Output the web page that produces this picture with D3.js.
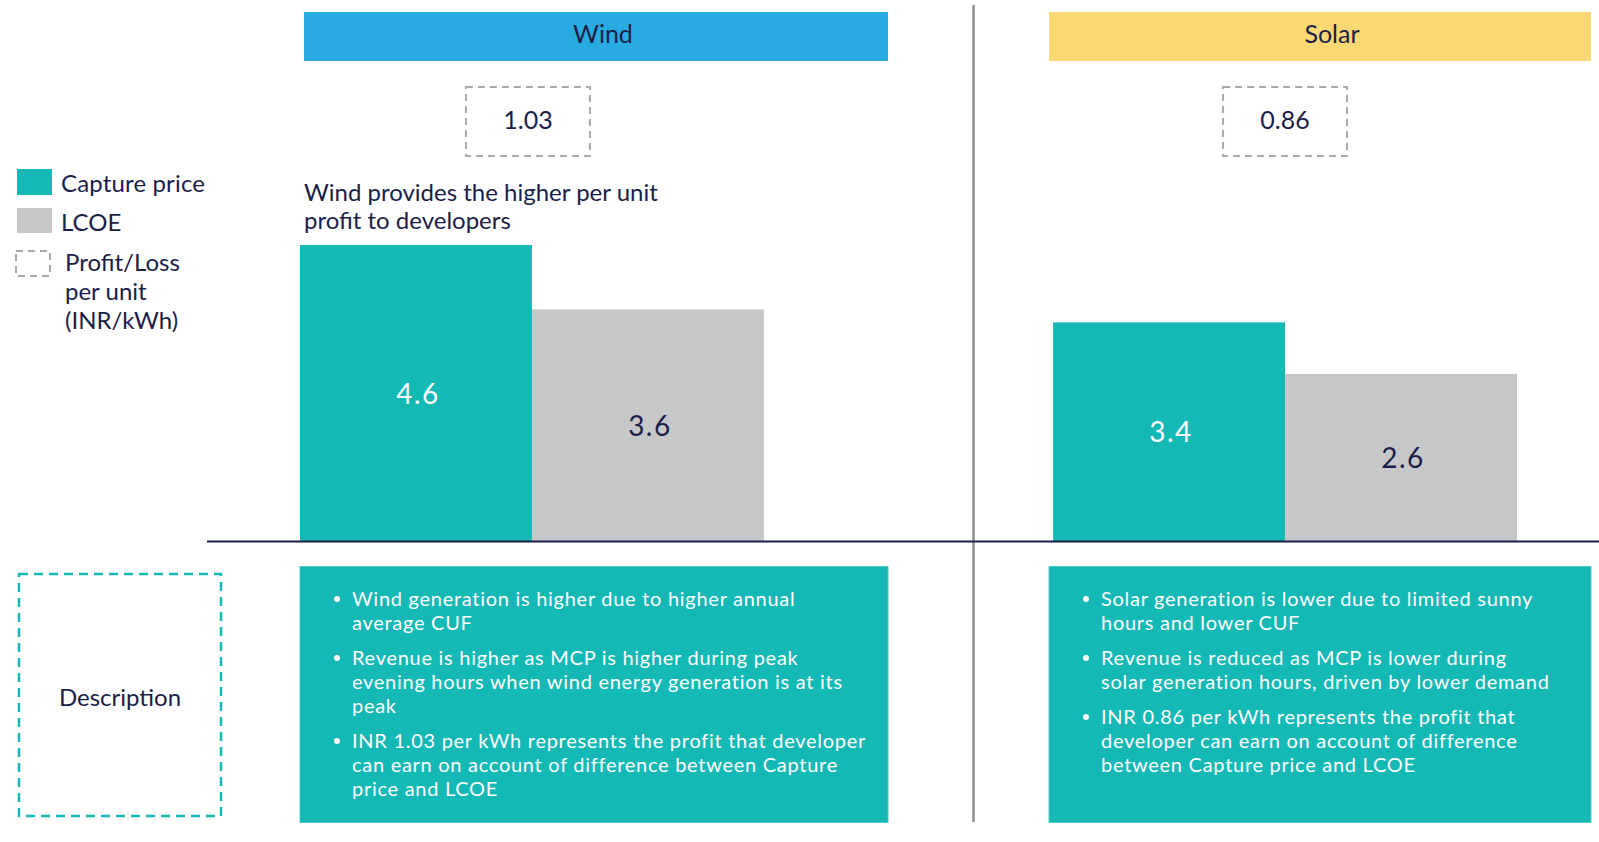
<!DOCTYPE html>
<html>
<head>
<meta charset="utf-8">
<script src="https://cdn.jsdelivr.net/npm/d3@7"></script>
<style>
  html, body { margin: 0; padding: 0; background: #ffffff; }
  svg { display: block; }
  text { font-family: Lato, "Open Sans", sans-serif; }
</style>
</head>
<body>
<svg id="chart" width="1599" height="842"></svg>
<script>
// ---------------- DATA ----------------
const categories = ["Wind", "Solar"];
const series = ["Capture price", "LCOE"];
const capturePrice = [4.6, 3.4];
const lcoe = [3.6, 2.6];
const profitPerUnit = [1.03, 0.86];
const legendLabels = ["Capture price", "LCOE", "Profit/Loss per unit (INR/kWh)"];
const annotationLines = ["Wind provides the higher per unit", "profit to developers"];
const descriptionTitle = "Description";
const windBullets = [
  ["Wind generation is higher due to higher annual", "average CUF"],
  ["Revenue is higher as MCP is higher during peak", "evening hours when wind energy generation is at its", "peak"],
  ["INR 1.03 per kWh represents the profit that developer", "can earn on account of difference between Capture", "price and LCOE"]
];
const solarBullets = [
  ["Solar generation is lower due to limited sunny", "hours and lower CUF"],
  ["Revenue is reduced as MCP is lower during", "solar generation hours, driven by lower demand"],
  ["INR 0.86 per kWh represents the profit that", "developer can earn on account of difference", "between Capture price and LCOE"]
];
const bulletsByCategory = [windBullets, solarBullets];

// ---------------- STYLE / LAYOUT ----------------
const TEAL = "#14b9b5";
const GREY = "#c6c7c9";
const NAVY = "#1b1e48";
const headerColors = { Wind: "#29abe2", Solar: "#fad874" };
const panels = {
  Wind:  { x0: 304, x1: 888, bulletX: 337, textX: 352 },
  Solar: { x0: 1049, x1: 1591, bulletX: 1086, textX: 1101 }
};

const svg = d3.select("#chart");

// scales
const x0 = d3.scaleBand().domain(categories).range([300, 1517]).paddingInner(0.384).paddingOuter(0).align(0);
const x1 = d3.scaleBand().domain(series).range([0, x0.bandwidth()]).padding(0);
const y = d3.scaleLinear().domain([0, 4.6]).range([541.5, 245]);
const color = d3.scaleOrdinal().domain(series).range([TEAL, GREY]);

const rows = categories.map((c, i) => ({
  category: c,
  values: [
    { key: series[0], value: capturePrice[i] },
    { key: series[1], value: lcoe[i] }
  ],
  profit: profitPerUnit[i],
  bullets: bulletsByCategory[i]
}));

// headers
const headers = svg.append("g");
rows.forEach(r => {
  const p = panels[r.category];
  headers.append("rect")
    .attr("x", p.x0).attr("y", 12)
    .attr("width", p.x1 - p.x0).attr("height", 49)
    .attr("fill", headerColors[r.category]);
  headers.append("text")
    .attr("x", (p.x0 + p.x1) / 2 + (r.category === "Solar" ? 12 : 7)).attr("y", 43)
    .attr("text-anchor", "middle")
    .attr("font-size", 25).attr("fill", NAVY)
    .text(r.category);
});

// divider
svg.append("line")
  .attr("x1", 973.5).attr("x2", 973.5).attr("y1", 5).attr("y2", 822)
  .attr("stroke", "#8c8c8c").attr("stroke-width", 2.5);

// bars
const groups = svg.append("g").selectAll("g.group")
  .data(rows).join("g")
  .attr("class", "group")
  .attr("transform", d => `translate(${x0(d.category)},0)`);

groups.selectAll("rect.bar")
  .data(d => d.values).join("rect")
  .attr("class", "bar")
  .attr("x", d => x1(d.key))
  .attr("y", d => y(d.value))
  .attr("width", x1.bandwidth())
  .attr("height", d => y(0) - y(d.value))
  .attr("fill", d => color(d.key));

groups.selectAll("text.val")
  .data(d => d.values).join("text")
  .attr("class", "val")
  .attr("x", d => x1(d.key) + x1.bandwidth() / 2 + 2)
  .attr("y", d => (y(d.value) + y(0)) / 2 + 10.5)
  .attr("text-anchor", "middle")
  .attr("font-size", 28)
  .attr("letter-spacing", 1.5)
  .attr("fill", d => d.key === series[0] ? "#ffffff" : NAVY)
  .text(d => d3.format(".1f")(d.value));

// profit boxes
groups.each(function(d) {
  const g = d3.select(this);
  const cx = x1(series[1]) - (d.category === "Wind" ? 4 : 0);
  g.append("rect")
    .attr("x", cx - 62).attr("y", 87)
    .attr("width", 124).attr("height", 69)
    .attr("fill", "none")
    .attr("stroke", "#a9a9a9").attr("stroke-width", 2)
    .attr("stroke-dasharray", "7,5");
  g.append("text")
    .attr("x", cx).attr("y", 129)
    .attr("text-anchor", "middle")
    .attr("font-size", 25).attr("fill", NAVY)
    .text(d3.format(".2f")(d.profit));
});

// baseline
svg.append("line")
  .attr("x1", 207).attr("x2", 1599).attr("y1", 541.5).attr("y2", 541.5)
  .attr("stroke", NAVY).attr("stroke-width", 2);

// annotation
svg.append("text")
  .attr("x", 304).attr("font-size", 24).attr("fill", NAVY)
  .selectAll("tspan").data(annotationLines).join("tspan")
  .attr("x", 304).attr("y", (d, i) => 201 + i * 28)
  .text(d => d);

// legend
const legend = svg.append("g");
legend.append("rect").attr("x", 17).attr("y", 169).attr("width", 35).attr("height", 26).attr("fill", TEAL);
legend.append("rect").attr("x", 17).attr("y", 208).attr("width", 35).attr("height", 25).attr("fill", GREY);
legend.append("rect").attr("x", 16).attr("y", 251).attr("width", 34).attr("height", 25)
  .attr("fill", "none").attr("stroke", "#a9a9a9").attr("stroke-width", 2).attr("stroke-dasharray", "7,5");
legend.append("text").attr("x", 61).attr("y", 192).attr("font-size", 24).attr("letter-spacing", 0.15).attr("fill", NAVY).text(legendLabels[0]);
legend.append("text").attr("x", 61).attr("y", 231).attr("font-size", 24).attr("fill", NAVY).text(legendLabels[1]);
legend.append("text").attr("font-size", 24).attr("fill", NAVY)
  .selectAll("tspan").data(["Profit/Loss", "per unit", "(INR/kWh)"]).join("tspan")
  .attr("x", 65).attr("y", (d, i) => 271 + i * 29)
  .text(d => d);

// description label box
svg.append("rect")
  .attr("x", 19).attr("y", 574).attr("width", 202).attr("height", 242)
  .attr("fill", "none").attr("stroke", TEAL).attr("stroke-width", 2.5)
  .attr("stroke-dasharray", "9,6");
svg.append("text")
  .attr("x", 120).attr("y", 706).attr("text-anchor", "middle")
  .attr("font-size", 24).attr("fill", NAVY).text(descriptionTitle);

// description panels
rows.forEach(r => {
  const p = panels[r.category];
  svg.append("rect")
    .attr("x", p.x0 - (r.category === "Wind" ? 4 : 0)).attr("y", 566.5)
    .attr("width", p.x1 - p.x0 + (r.category === "Wind" ? 4 : 0)).attr("height", 256)
    .attr("fill", TEAL).attr("stroke", "#4ccbc7").attr("stroke-width", 1);
  let base = 606;
  const g = svg.append("g");
  r.bullets.forEach(lines => {
    g.append("circle").attr("cx", p.bulletX).attr("cy", base - 7).attr("r", 3).attr("fill", "#ffffff");
    lines.forEach((line, j) => {
      g.append("text")
        .attr("x", p.textX).attr("y", base + j * 24)
        .attr("font-size", 20).attr("letter-spacing", 0.72)
        .attr("fill", "#ffffff").text(line);
    });
    base += (lines.length - 1) * 24 + 35;
  });
});
</script>
</body>
</html>
